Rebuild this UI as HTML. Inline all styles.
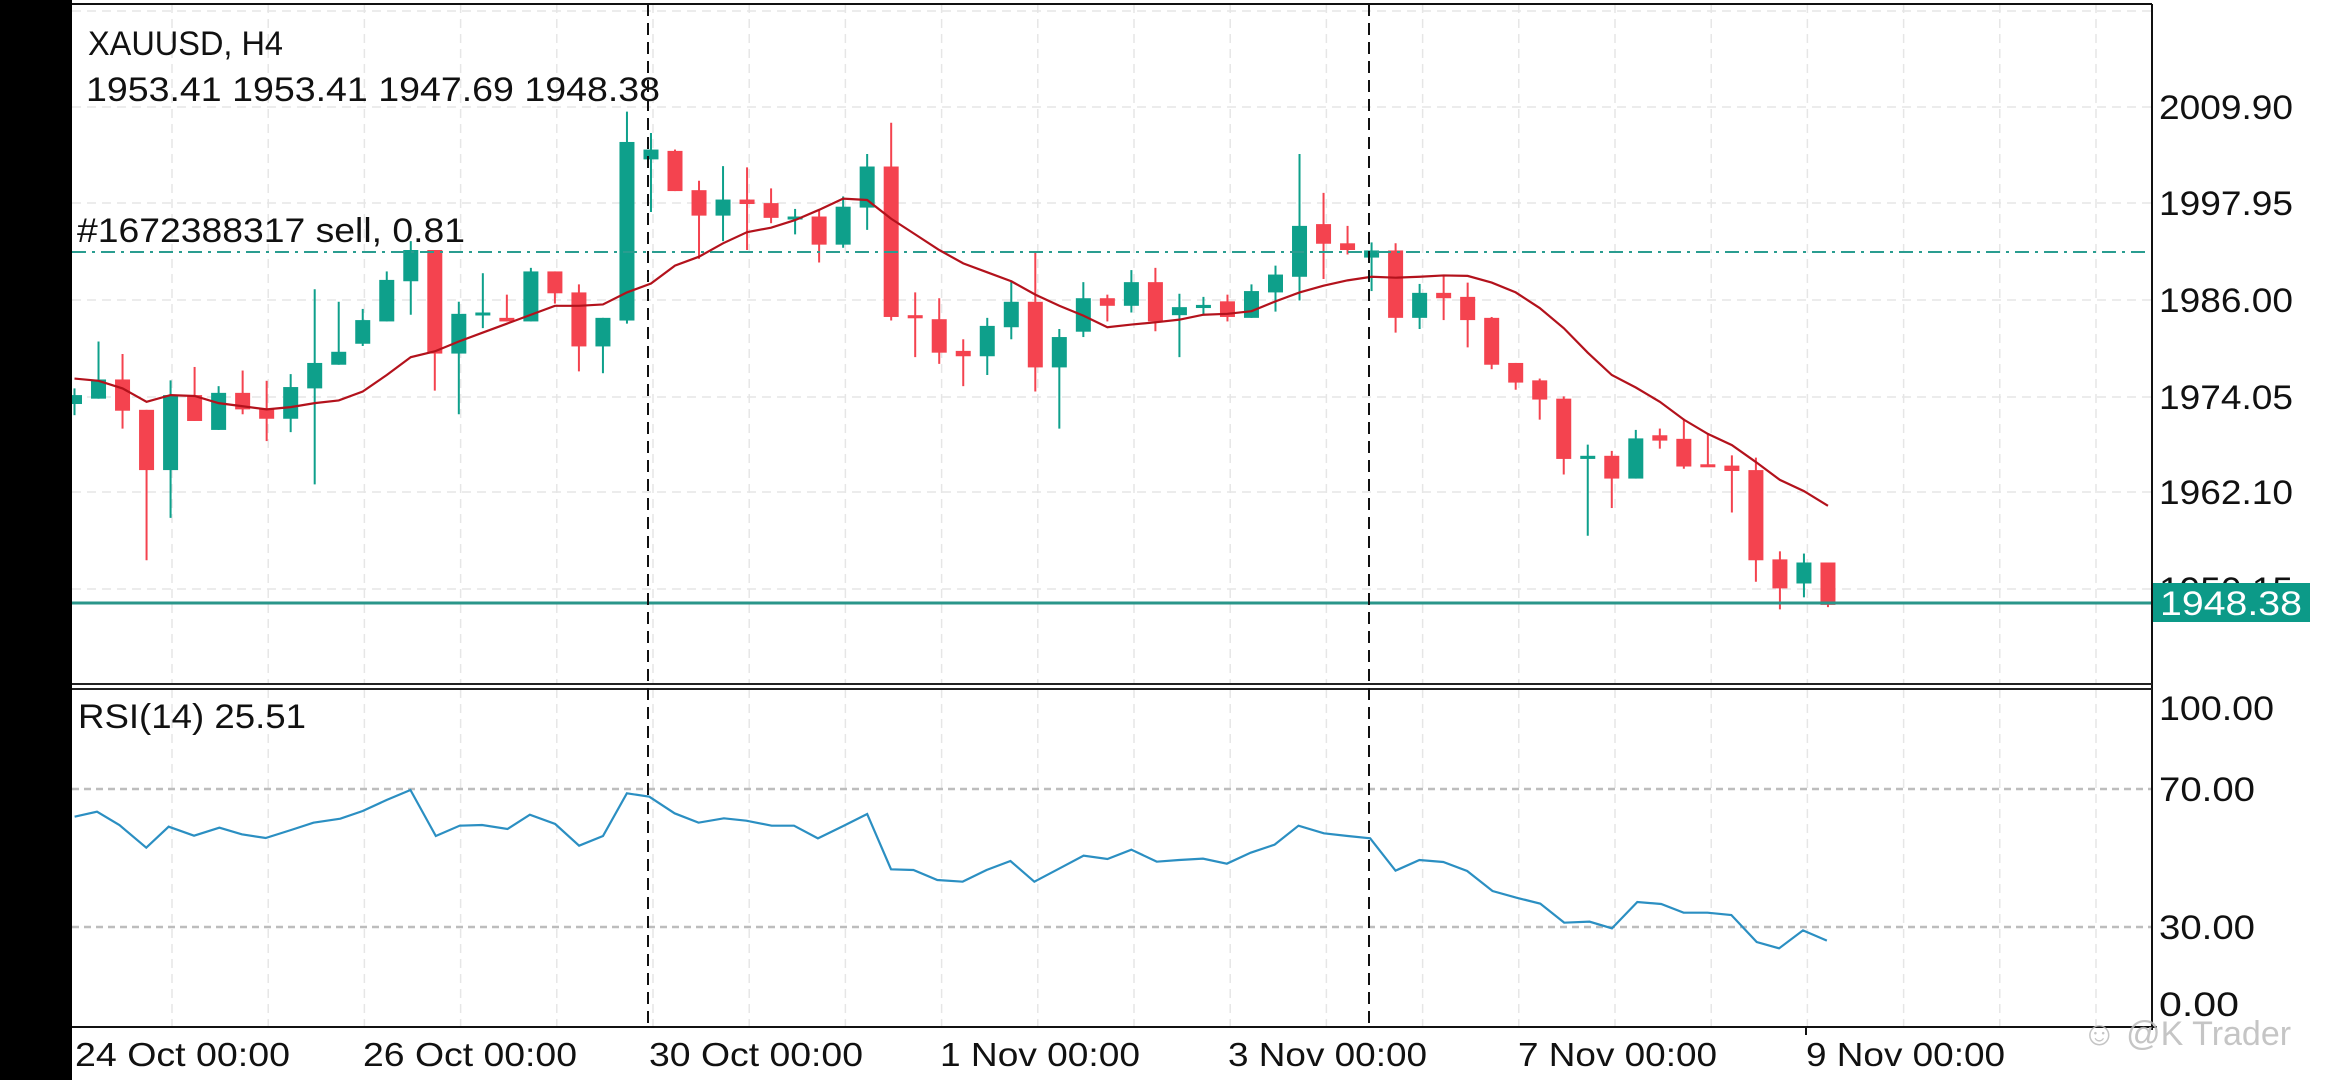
<!DOCTYPE html>
<html><head><meta charset="utf-8"><style>
html,body{margin:0;padding:0;background:#fff;width:2340px;height:1080px;overflow:hidden}
svg{display:block}
text{font-family:"Liberation Sans",sans-serif;fill:#111}
</style></head><body>
<svg id="s" width="2340" height="1080" xmlns="http://www.w3.org/2000/svg">
<rect x="0" y="0" width="2340" height="1080" fill="#fff"/>
<rect x="0" y="0" width="72" height="1080" fill="#000"/>
<g id="grid"></g>
<g id="candles"></g>
<g id="lines"></g>
<line x1="72" y1="4" x2="2152" y2="4" stroke="#111" stroke-width="2"/>
<line x1="2152" y1="4" x2="2152" y2="1030" stroke="#111" stroke-width="2"/>
<line x1="72" y1="684" x2="2152" y2="684" stroke="#222" stroke-width="2"/>
<line x1="72" y1="689" x2="2152" y2="689" stroke="#222" stroke-width="2"/>
<line x1="72" y1="1027" x2="2157" y2="1027" stroke="#111" stroke-width="2"/>
<line x1="648" y1="4" x2="648" y2="1027" stroke="#111" stroke-width="2" stroke-dasharray="12,7"/>
<line x1="1369" y1="4" x2="1369" y2="1027" stroke="#111" stroke-width="2" stroke-dasharray="12,7"/>
<line x1="1806" y1="1027" x2="1806" y2="1035" stroke="#111" stroke-width="2"/>
<text x="88" y="55" font-size="34" textLength="195" lengthAdjust="spacingAndGlyphs">XAUUSD, H4</text>
<text x="86" y="101" font-size="34" textLength="574" lengthAdjust="spacingAndGlyphs">1953.41 1953.41 1947.69 1948.38</text>
<text x="77" y="242" font-size="34" textLength="388" lengthAdjust="spacingAndGlyphs">#1672388317 sell, 0.81</text>
<text x="78" y="728" font-size="34" textLength="228" lengthAdjust="spacingAndGlyphs">RSI(14) 25.51</text>
<g font-size="34">
<text x="2159" y="119" textLength="134" lengthAdjust="spacingAndGlyphs">2009.90</text>
<text x="2159" y="215" textLength="134" lengthAdjust="spacingAndGlyphs">1997.95</text>
<text x="2159" y="312" textLength="134" lengthAdjust="spacingAndGlyphs">1986.00</text>
<text x="2159" y="409" textLength="134" lengthAdjust="spacingAndGlyphs">1974.05</text>
<text x="2159" y="504" textLength="134" lengthAdjust="spacingAndGlyphs">1962.10</text>
<text x="2159" y="601" textLength="134" lengthAdjust="spacingAndGlyphs">1950.15</text>
<text x="2159" y="720" textLength="115" lengthAdjust="spacingAndGlyphs">100.00</text>
<text x="2159" y="801" textLength="96" lengthAdjust="spacingAndGlyphs">70.00</text>
<text x="2159" y="939" textLength="96" lengthAdjust="spacingAndGlyphs">30.00</text>
<text x="2159" y="1016" textLength="80" lengthAdjust="spacingAndGlyphs">0.00</text>
</g>
<rect x="2153" y="583" width="157" height="39" fill="#0c9a88"/>
<text x="2160" y="615" font-size="34" textLength="142" lengthAdjust="spacingAndGlyphs" style="fill:#fff">1948.38</text>
<g font-size="33">
<text x="75" y="1066" textLength="215" lengthAdjust="spacingAndGlyphs">24 Oct 00:00</text>
<text x="363" y="1066" textLength="214" lengthAdjust="spacingAndGlyphs">26 Oct 00:00</text>
<text x="649" y="1066" textLength="214" lengthAdjust="spacingAndGlyphs">30 Oct 00:00</text>
<text x="940" y="1066" textLength="200" lengthAdjust="spacingAndGlyphs">1 Nov 00:00</text>
<text x="1228" y="1066" textLength="199" lengthAdjust="spacingAndGlyphs">3 Nov 00:00</text>
<text x="1518" y="1066" textLength="199" lengthAdjust="spacingAndGlyphs">7 Nov 00:00</text>
<text x="1806" y="1066" textLength="199" lengthAdjust="spacingAndGlyphs">9 Nov 00:00</text>
</g>
<text x="2082" y="1045" font-size="34" style="fill:#bbb;opacity:0.85">☺ @K Trader</text>
</svg>
<script>
const NS="http://www.w3.org/2000/svg";
function el(p,t,a){const e=document.createElementNS(NS,t);for(const k in a)e.setAttribute(k,a[k]);document.getElementById(p).appendChild(e);return e;}
for(let x=172;x<2152;x+=96.2){el("grid","line",{x1:x,y1:4,x2:x,y2:684,stroke:"#e6e6e6","stroke-width":1.5,"stroke-dasharray":"9,6"});el("grid","line",{x1:x,y1:689,x2:x,y2:1027,stroke:"#e6e6e6","stroke-width":1.5,"stroke-dasharray":"9,6"});}
[11,107,203,300,397,492,589].forEach(y=>el("grid","line",{x1:72,y1:y,x2:2152,y2:y,stroke:"#e6e6e6","stroke-width":1.5,"stroke-dasharray":"9,6"}));
[789,927].forEach(y=>el("grid","line",{x1:72,y1:y,x2:2152,y2:y,stroke:"#bdbdbd","stroke-width":2.5,"stroke-dasharray":"7,5"}));
el("lines","line",{x1:72,y1:252,x2:2152,y2:252,stroke:"#2a9d90","stroke-width":2,"stroke-dasharray":"14,6,3,6"});
el("lines","line",{x1:72,y1:603,x2:2152,y2:603,stroke:"#2a968a","stroke-width":3});
const C=[
["g",885,905,870,930],["g",850,893,765,893],["r",850,920,793,960],["r",918,1053,918,1255],["g",885,1053,852,1160],
["r",885,943,822,943],["g",880,963,865,963],["r",880,917,830,928],["r",917,938,853,988],["g",867,938,838,968],
["g",813,870,648,1085],["g",788,817,676,817],["g",717,770,692,775],["g",627,720,608,720],["g",560,630,540,705],
["r",560,792,560,875],["g",703,792,676,928],["g",700,706,612,735],["r",712,720,660,720],["g",608,720,600,720],
["r",608,657,608,680],["r",655,776,637,832],["g",712,776,712,836],["g",318,718,250,725],["g",335,357,298,475],
["r",338,428,335,428],["r",426,483,405,580],["g",447,483,372,540],["r",447,457,375,560],["r",455,488,422,500],
["g",485,491,468,525],["r",485,548,470,588],["g",463,548,440,555],["g",373,465,345,515],["r",373,710,275,718],
["r",706,713,655,800],["r",715,790,668,815],["r",786,798,760,865],["g",730,798,712,840],["g",676,733,628,760],
["r",676,823,565,877],["g",755,823,737,960],["g",668,743,632,755],["r",668,685,660,720],["g",632,685,605,700],
["r",632,720,600,742],
["g",688,706,658,800],["g",683,690,665,705],["r",675,710,660,720],["g",652,712,637,712],["g",615,655,595,698],
["g",506,620,345,673],["r",502,546,432,625],["r",545,560,506,570],["g",561,577,543,652],["r",561,712,545,745],
["g",656,712,636,737],["r",656,668,617,717],["r",665,717,633,778],["r",712,817,710,827],["r",813,857,813,873],
["r",852,895,848,940],["r",893,1028,888,1063],["g",1021,1028,996,1200],["r",1021,1072,1010,1138],["g",982,1072,963,1072],
["r",975,987,960,1005],["r",983,1045,938,1050],["r",1040,1046,970,1046],["r",1043,1055,1020,1148],["r",1053,1255,1025,1303],
["r",1253,1318,1235,1365],["g",1260,1307,1240,1338],["r",1260,1355,1260,1360]];
const X=i=>74.5+24.02*i, K=2.24;
C.forEach((c,i)=>{const col=c[0]=="g"?"#0ea08b":"#f4434f";const x=X(i);
 el("candles","line",{x1:x,y1:c[3]/K,x2:x,y2:c[4]/K,stroke:col,"stroke-width":2});
 const t=c[1]/K,b=Math.max(c[2]/K,t+3);
 el("candles","rect",{x:Math.max(x-7.5,72),y:t,width:15-(x-7.5<72?72-(x-7.5):0),height:b-t,fill:col});});
const M=[848,853,870,900,885,887,903,910,917,912,903,897,877,840,800,787,765,745,725,705,685,685,682,655,635,595,575,545,520,510,493,470,445,448,490,525,560,590,610,630,660,685,707,733,727,722,
716,705,703,697,675,655,640,628,620,622,620,617,618,633,655,690,735,790,840,868,900,940,972,997,1035,1075,1100,1133];
el("lines","polyline",{points:M.map((y,i)=>Math.max(X(i),72)+","+(y/K)).join(" "),fill:"none",stroke:"#b3121c","stroke-width":2.2});
const R=[[50,410],[65,395],[80,435],[98,503],[113,440],[130,467],[147,443],[162,463],[178,474],[195,450],[210,428],[228,416],[243,393],[259,360],[275,330],[292,468],[308,437],[323,435],[340,447],[355,404],[372,432],[388,497],[404,468],[420,340],[435,350],[452,400],[468,428],[485,415],[500,422],[517,437],[532,437],[548,475],[565,438],[581,402],[597,568],[612,570],[628,600],[645,605],[661,570],[677,543],[693,605],[710,565],[726,527],[742,537],[758,509],[775,545],[790,540],[806,536],[822,551],[838,518],[854,494],[870,437],[887,460],[903,468],[918,475],[935,572],[951,540],[967,546],[983,573],[1000,633],[1016,653],[1032,671],[1048,728],[1065,725],[1080,745],[1097,666],[1113,672],[1128,698],[1144,698],[1160,705],[1177,786],[1192,805],[1208,751],[1224,782]];
el("lines","polyline",{points:R.map(p=>Math.max(p[0]/0.67,72)+","+(680+p[1]/3)).join(" "),fill:"none",stroke:"#2b8fc2","stroke-width":2.2});
</script>
</body></html>
